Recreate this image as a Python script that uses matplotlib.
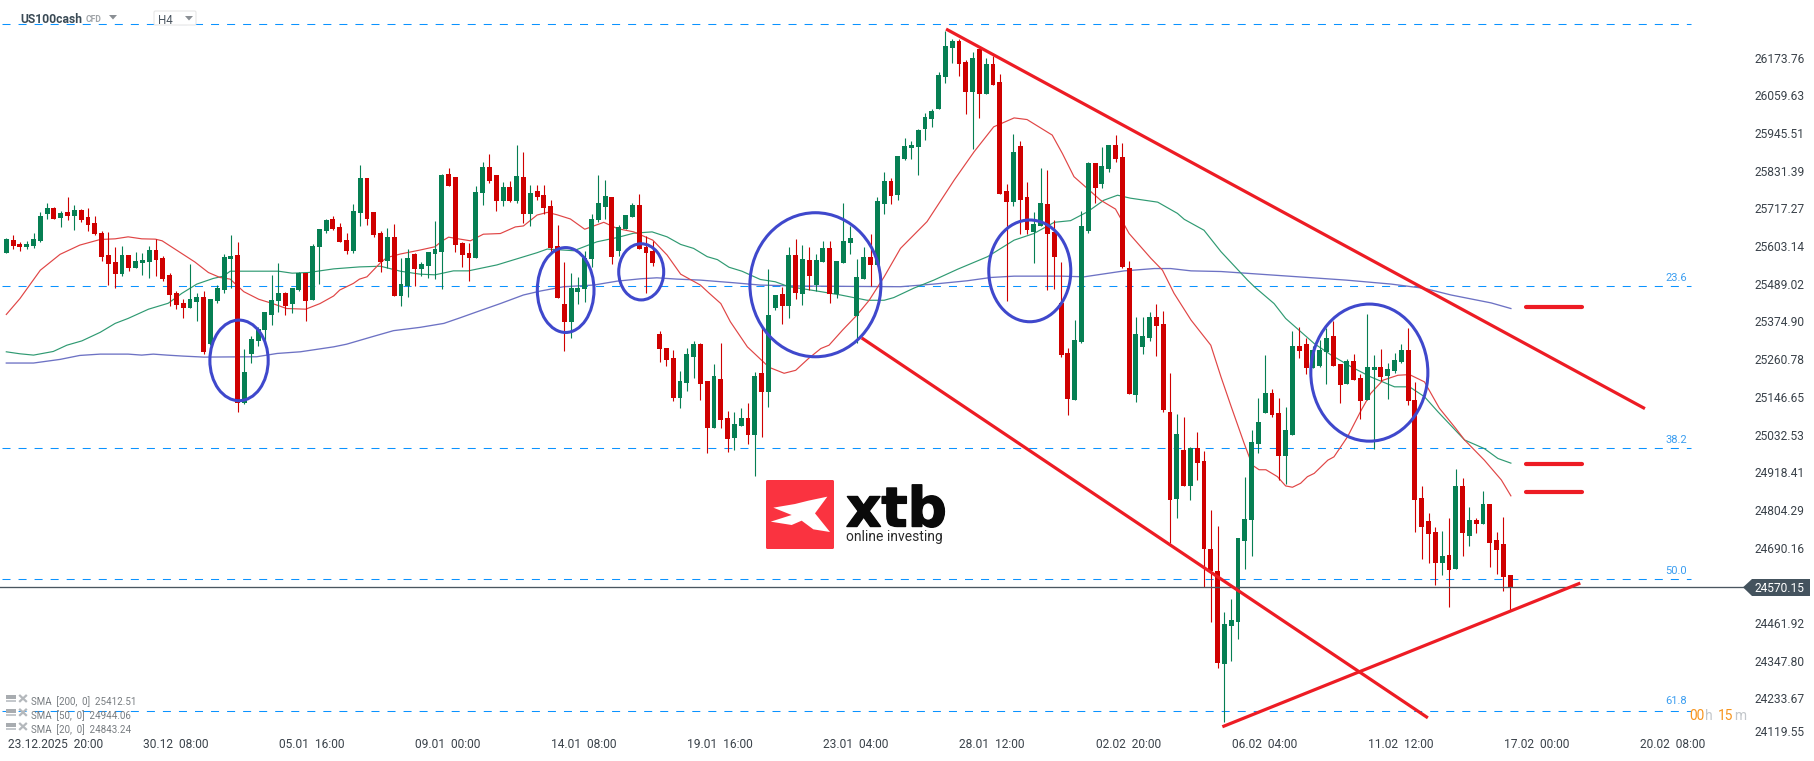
import matplotlib
matplotlib.use("Agg")
import matplotlib.pyplot as plt
import matplotlib.patheffects as pe
import numpy as np
from matplotlib.patches import Ellipse, Polygon, Rectangle, FancyBboxPatch
from matplotlib.transforms import Bbox

plt.rcParams['font.family'] = ['Roboto', 'DejaVu Sans']

opens = [25582,25621,25609,25600,25603,25618,25700,25718,25688,25706,
25694,25712,25691,25672,25642,25576,25554,25518,25576,25536,
25551,25554,25591,25567,25515,25461,25430,25415,25433,25449,
25306,25436,25470,25564,25576,25128,25276,25315,25349,25394,
25436,25461,25427,25470,25521,25439,25600,25648,25685,25660,
25621,25588,25703,25809,25706,25642,25557,25630,25452,25482,
25579,25533,25542,25579,25585,25821,25812,25612,25582,25567,
25763,25842,25818,25739,25781,25739,25812,25700,25769,25757,
25724,25603,25427,25373,25464,25473,25564,25682,25721,25751,
25588,25654,25691,25727,25600,25588,25336,25294,25264,25143,
25188,25267,25306,25194,25052,25200,25082,25022,25058,25082,
25031,25218,25161,25415,25458,25421,25576,25458,25560,25485,
25554,25597,25458,25551,25612,25391,25503,25570,25545,25730,
25800,25757,25866,25900,25903,25957,25987,26018,26114,26202,
26223,26160,26069,26199,26063,26154,26099,25769,25736,25906,
25751,25645,25663,25730,25645,25430,25279,25137,25312,25648,
25854,25791,25836,25909,25872,25536,25152,25297,25324,25388,
25367,25100,24837,24985,24876,24991,24952,24686,24619,24338,
24453,24465,24710,24774,25004,25097,25158,25097,24967,25031,
25300,25306,25234,25240,25282,25330,25246,25185,25255,25203,
25137,25228,25237,25209,25225,25252,25288,25137,24840,24770,
24737,24643,24668,24625,24876,24725,24773,24761,24822,24713,
24701,24607]

highs = [25628,25636,25615,25618,25642,25706,25733,25721,25709,25751,
25727,25715,25718,25694,25648,25645,25600,25603,25576,25585,
25582,25603,25624,25573,25521,25467,25442,25548,25461,25467,
25442,25485,25579,25636,25615,25291,25330,25359,25403,25515,
25551,25464,25476,25524,25521,25609,25654,25685,25694,25672,
25642,25730,25848,25809,25706,25648,25657,25669,25567,25594,
25582,25554,25585,25679,25821,25839,25812,25615,25612,25784,
25857,25881,25818,25797,25800,25909,25887,25788,25788,25788,
25742,25666,25554,25521,25509,25588,25700,25818,25803,25751,
25666,25697,25733,25760,25633,25618,25346,25294,25288,25225,
25294,25315,25309,25194,25246,25309,25103,25100,25112,25128,
25221,25358,25533,25455,25479,25600,25624,25606,25600,25579,
25618,25618,25557,25733,25663,25564,25600,25639,25751,25827,
25809,25875,25930,25921,25957,26005,26018,26130,26254,26229,
26229,26166,26190,26199,26172,26178,26124,25791,25942,25921,
25797,25706,25839,25833,25682,25554,25294,25379,25709,25857,
25854,25903,25909,25939,25915,25557,25388,25388,25403,25427,
25406,25218,25094,25085,24994,25040,24982,24804,24755,24495,
24534,24719,24904,25046,25143,25273,25170,25143,25116,25346,
25358,25324,25300,25318,25355,25376,25246,25261,25276,25215,
25397,25273,25291,25249,25279,25306,25355,25191,24876,24795,
24752,24740,24780,24928,24901,24813,24780,24861,24822,24737,
24783,24607]

lows = [25582,25594,25588,25594,25597,25615,25685,25685,25660,25682,
25651,25676,25648,25636,25557,25485,25476,25512,25527,25536,
25515,25506,25512,25497,25421,25412,25385,25415,25376,25276,
25303,25430,25461,25476,25100,25125,25249,25300,25318,25364,
25403,25394,25400,25467,25376,25439,25488,25642,25651,25615,
25579,25582,25663,25666,25630,25524,25536,25452,25421,25449,
25482,25512,25506,25503,25473,25784,25585,25539,25497,25567,
25727,25794,25709,25724,25736,25733,25672,25663,25742,25700,
25582,25445,25285,25324,25427,25433,25539,25676,25685,25548,
25573,25654,25691,25594,25461,25542,25252,25240,25134,25113,
25164,25203,25137,24976,25052,25052,24979,24985,25058,25004,
24907,25025,25116,25409,25367,25385,25442,25424,25470,25467,
25554,25430,25445,25551,25579,25309,25503,25482,25545,25700,
25730,25742,25863,25866,25818,25924,25963,26018,26096,26157,
26117,26002,25897,25990,26063,26090,25760,25436,25724,25639,
25639,25551,25663,25470,25473,25267,25091,25137,25309,25642,
25733,25778,25827,25857,25536,25155,25131,25276,25315,25270,
25100,24704,24780,24876,24834,24895,24571,24465,24326,24162,
24347,24413,24625,24665,24976,25097,25085,24895,24883,25031,
25264,25215,25234,25237,25185,25240,25128,25185,25197,25079,
25137,24988,25194,25140,25218,25249,25122,24737,24655,24643,
24577,24607,24510,24625,24665,24695,24734,24761,24631,24610,
24559,24498]

closes = [25624,25603,25600,25609,25624,25694,25718,25685,25703,25694,
25712,25682,25666,25639,25570,25548,25518,25576,25536,25557,
25560,25591,25560,25503,25455,25424,25415,25442,25449,25282,
25442,25476,25570,25573,25128,25221,25321,25352,25403,25439,
25461,25421,25476,25521,25436,25603,25654,25682,25654,25615,
25588,25709,25809,25685,25636,25554,25630,25452,25488,25567,
25533,25548,25585,25594,25818,25784,25606,25576,25567,25766,
25842,25800,25739,25781,25739,25815,25700,25763,25751,25718,
25597,25445,25373,25476,25476,25567,25685,25733,25754,25570,
25660,25697,25727,25594,25582,25551,25291,25258,25143,25194,
25276,25306,25185,25052,25209,25076,25019,25064,25082,25031,
25209,25161,25394,25455,25421,25576,25461,25564,25512,25560,
25597,25458,25557,25618,25627,25509,25570,25545,25739,25800,
25754,25875,25906,25909,25954,25993,26012,26121,26208,26223,
26154,26069,26172,26063,26154,26090,25760,25736,25887,25742,
25651,25669,25733,25639,25570,25273,25140,25318,25663,25854,
25778,25845,25909,25866,25539,25155,25337,25330,25388,25361,
25106,24834,25034,24876,24991,24946,24686,24619,24341,24459,
24471,24719,24777,25010,25070,25158,25091,24967,25046,25300,
25285,25234,25288,25288,25324,25240,25182,25255,25197,25134,
25237,25237,25206,25231,25258,25288,25134,24834,24752,24731,
24643,24665,24622,24876,24734,24773,24761,24822,24704,24683,
24601,24570]

sma20_x = [0,2,5,7.9,10.8,13.8,16,17.9,19.9,21.9,22.9,25,27.7,29.7,31.4,32.9,34.9,37.1,39,41.2,44,46.1,48.1,49,51,51.9,53,55,55.9,57.9,60.8,
63,64,65,66.7,68.2,70.1,72.6,74.8,76,78,79.5,80.9,82.9,85,87.8,89.8,92.2,95,97.1,99.1,102,103.2,105,106.4,108.9,112.1,114.3,116,117.9,119.7,
120.9,122.9,125,126.8,129,131.4,135.3,139.3,142.2,145.1,148.1,150,153.7,155.2,156.9,160.8,163,165,168.2,169.9,171.6,174.1,177,178.5,
180,181.9,183.1,184.1,185.1,186.8,188,189,190.2,191.2,192.2,194.2,195.1,197.1,199.1,200.5,202.3,204.5,206.2,208.4,210.6,213,214.3,217.2,219.7,221.1]
sma20_y = [25396,25444,25530,25578,25606,25623,25625,25631,25625,25624,25619,25591,25555,25523,25508,25503,25465,25442,25430,25414,25412,25429,25452,25470,25490,25503,25510,25553,25568,25579,25591,
25601,25618,25630,25624,25619,25639,25641,25661,25664,25697,25705,25698,25685,25654,25675,25656,25646,25621,25576,25518,25485,25462,25429,25374,25298,25236,25218,25227,25263,25293,
25303,25349,25394,25439,25510,25596,25677,25803,25888,25964,25991,25986,25939,25883,25813,25742,25715,25641,25566,25530,25460,25379,25303,25207,
25117,25006,24940,24926,24926,24905,24877,24873,24885,24905,24915,24955,24965,25026,25106,25157,25197,25212,25214,25192,25112,25051,25016,24955,24895,24847]

sma50_x = [0,2,4,6.9,8.9,11.1,13.8,16,17.9,20.9,23.8,25.8,28,30.4,31.9,32.9,40,42,44.4,48.1,51.9,55,57.9,60.8,
63,65.7,67.9,72.1,78,79.5,83.4,86.8,89.8,92.2,94.9,97.1,99.1,101,103,104.5,106.2,108.1,110.8,113,115,
116.7,119.7,122.6,126.5,129,130.4,133.4,136.3,139.8,144.2,148.1,151,154,156.4,158.9,161.3,163.3,165.2,169.2,172.1,173.1,176,178.5,
182.4,183.4,186.3,188,192.2,194.7,197.6,200.5,204,206.2,208.4,210.4,214.3,217.2,219.2,221.1]
sma50_y = [25283,25277,25273,25284,25303,25316,25342,25369,25384,25412,25430,25460,25488,25505,25512,25527,25527,25521,25523,25534,25540,25542,25527,25518,
25516,25528,25528,25546,25583,25594,25589,25616,25629,25642,25646,25631,25608,25596,25571,25562,25539,25527,25502,25495,25480,
25475,25465,25455,25439,25439,25447,25476,25500,25533,25571,25621,25641,25675,25680,25707,25742,25757,25748,25736,25702,25684,25651,25586,
25500,25480,25429,25384,25308,25273,25238,25207,25177,25177,25147,25101,25016,24990,24960,24946]

sma200_x = [0,4,7.9,10.8,13.8,17.9,19.9,21.6,23.6,26,29,36.8,39.8,43.2,48.1,50,54,56.9,60.8,
64.3,66.7,69.7,72.6,76,78.5,81.9,86.3,89.8,93.2,95.6,98.6,102,106.9,110.8,116.7,
124.1,131.4,136.3,141.2,144.7,148.1,155,158.4,164.3,168.7,171.1,174.1,178.5,186.3,
196.9,203.5,208.4,212.3,218.2,221.1]
sma200_y = [25249,25249,25260,25272,25276,25276,25273,25276,25273,25270,25267,25268,25278,25283,25298,25306,25330,25347,25357,
25369,25386,25408,25429,25455,25467,25480,25485,25497,25504,25507,25503,25500,25492,25485,25482,
25481,25480,25488,25498,25508,25512,25512,25510,25528,25535,25535,25528,25526,25515,
25500,25488,25475,25455,25431,25414]

fib_levels = [26274, 25481, 24991, 24594, 24197]
fib_labels = ['0.0', '23.6', '38.2', '50.0', '61.8']
last_price = 24570.15

y_ticks = [26173.76,26059.63,25945.51,25831.39,25717.27,25603.14,25489.02,25374.90,25260.78,
           25146.65,25032.53,24918.41,24804.29,24690.16,24461.92,24347.80,24233.67]
bottom_tick = 24119.55
x_tick_pos = [7.2,24.85,44.85,64.85,84.85,104.85,124.85,144.85,164.85,184.85,204.85,224.85,244.85]
x_tick_labels = ['23.12.2025  20:00','30.12  08:00','05.01  16:00','09.01  00:00','14.01  08:00',
                 '19.01  16:00','23.01  04:00','28.01  12:00','02.02  20:00','06.02  04:00',
                 '11.02  12:00','17.02  00:00','20.02  08:00']

# drawn annotations on the chart, in bar index and price
trend_lines = [((138.1,26260),(240.8,25111)), ((125.7,25325),(208.9,24175)), ((178.7,24148),(231.3,24583))]
target_levels = [25419, 24942, 24859]
target_span = (223.3, 231.5)
circles = [(34.2,25257,8.57,244),(82.2,25470,8.33,257),(93.3,25525,6.61,170),
           (118.9,25486,19.25,436),(150.4,25528,12.05,308),(200.3,25220,17.2,415)]
legend_rows = ['SMA  [200,  0]  25412.51','SMA  [50,  0]  24944.06','SMA  [20,  0]  24843.24']

UP, DOWN = '#067f53', '#cf0000'
W, H = 1815, 761
fig = plt.figure(figsize=(W/100, H/100), dpi=100, facecolor='white')
PLOT_R, PLOT_B = 1745, 735
ax = fig.add_axes([0, (H-PLOT_B)/H, PLOT_R/W, PLOT_B/H])
bar_px, bar0 = 6.805, 6.3
price_px, price_ref, y_ref = 3.027, last_price, 587.3
ax.set_xlim((0-bar0)/bar_px, (PLOT_R-bar0)/bar_px)
ax.set_ylim(price_ref+(y_ref-PLOT_B)*price_px, price_ref+y_ref*price_px)
for s in ax.spines.values():
    s.set_visible(False)

n = len(opens)
assert n == len(highs) == len(lows) == len(closes) == 222
xs = np.arange(n)
o, h, l, c = map(np.array, (opens, highs, lows, closes))
cols = [UP if cc >= oo else DOWN for oo, cc in zip(o, c)]

# fibonacci levels
fib_x0, fib_x1 = 2/bar_px-bar0/bar_px, (1691-bar0)/bar_px
for lv in fib_levels:
    ax.plot([fib_x0, fib_x1], [lv, lv], color='#0a93ff', lw=0.75, ls=(0, (7.7, 7.7)), zorder=1)

# moving averages
ax.plot(sma200_x, sma200_y, color='#6d72c4', lw=0.95, zorder=2)
ax.plot(sma50_x, sma50_y, color='#2f9a72', lw=0.85, zorder=2)
ax.plot(sma20_x, sma20_y, color='#e04545', lw=0.85, zorder=2)

# candles
ax.vlines(xs, l, h, colors=cols, lw=0.8, zorder=3)
ax.bar(xs, np.abs(c-o), bottom=np.minimum(o, c), width=0.72, color=cols, linewidth=0, zorder=3)

# last price
ax.axhline(last_price, color='#4a5660', lw=0.95, zorder=3.5)

# annotations
for (p0, p1) in trend_lines:
    ax.plot([p0[0], p1[0]], [p0[1], p1[1]], color='#ed1c24', lw=2.3, solid_capstyle='butt', zorder=4)
for lv in target_levels:
    ax.plot(target_span, [lv, lv], color='#ed1c24', lw=3, solid_capstyle='round', zorder=4)
for cx, cy, w, hh in circles:
    ax.add_patch(Ellipse((cx, cy), w, hh, fill=False, ec='#3f48cc', lw=2.2, zorder=5))

# axes
ax.set_xticks(x_tick_pos)
ax.set_xticklabels(x_tick_labels)
ax.yaxis.tick_right()
ax.set_yticks(y_ticks)
ax.set_yticklabels([f'{v:.2f}' for v in y_ticks])
ax.tick_params(axis='x', length=0, pad=2.4, labelsize=8.65, labelcolor='#3a424a')
ax.tick_params(axis='y', length=0, pad=7.2, labelsize=8.65, labelcolor='#3a424a')
for t in ax.get_yticklabels():
    t.set_horizontalalignment('left')

# overlay in figure pixels for chart furniture
ov = fig.add_axes([0, 0, 1, 1], zorder=10)
ov.set_xlim(0, W); ov.set_ylim(H, 0); ov.axis('off')
ov.patch.set_alpha(0)

ov.text(1755, 732, f'{bottom_tick:.2f}', fontsize=8.65, color='#3a424a', va='center', ha='left')

# price tag
ov.add_patch(Polygon([(1743, 587.3), (1752, 579), (1810, 579), (1810, 596), (1752, 596)], closed=True, fc='#44535e', ec='none'))
ov.text(1779, 588, f'{last_price:.2f}', color='white', fontsize=8.65, ha='center', va='center')

# fibonacci labels
fib_y = [14, 278, 440, 570.5, 700.5]
for lab, yy in zip(fib_labels, fib_y):
    t = ov.text(1676, yy, lab, color='#3a9df0', fontsize=8, ha='center', va='center')
    if lab == '0.0':
        t.set_clip_box(Bbox([[1660, H-22], [1695, H-16.5]]))
        t.set_clip_on(True)

# header
ov.text(20, 19.5, 'US100cash', fontsize=8.7, fontweight='bold', color='#3a4a55', va='center')
ov.text(86, 19.5, 'CFD', fontsize=6.2, fontweight='bold', color='#a0a4a8', va='center')
ov.add_patch(Polygon([(109, 15), (117, 15), (113, 19.5)], closed=True, fc='#8a8f94', ec='none'))
ov.add_patch(FancyBboxPatch((154, 11), 42, 14, boxstyle='round,pad=0,rounding_size=1.5', fc='white', ec='#e6e6e6', lw=0.8))
ov.text(158, 20, 'H4', fontsize=8.4, color='#4a5560', va='center')
ov.add_patch(Polygon([(185, 16), (193, 16), (189, 20.5)], closed=True, fc='#8a8f94', ec='none'))

# legend
for row, yy in zip(legend_rows, [701.7, 715.6, 729.7]):
    ov.text(31, yy, row, fontsize=7.05, color='#777c80', va='center')
    ov.add_patch(Rectangle((6, yy-6.5), 10, 3.5, fc='#a8acb0', ec='none'))
    ov.add_patch(Rectangle((6, yy-2), 10, 2, fc='#c4c8cc', ec='none'))
    ov.plot([20, 26], [yy-6, yy-0.5], color='#b4b8bc', lw=1.6)
    ov.plot([20, 26], [yy-0.5, yy-6], color='#b4b8bc', lw=1.6)

# countdown
for xx, s, col in [(1689, '00', '#f7941d'), (1705, 'h', '#c3c7cb'), (1718, '15', '#f7941d'), (1734, 'm', '#c3c7cb')]:
    ov.text(xx, 716, s, fontsize=9.9, color=col, va='center', ha='left')

# logo
ov.add_patch(FancyBboxPatch((766, 480), 68, 69, boxstyle='round,pad=0,rounding_size=1.5', fc='#fa3340', ec='none'))
logo_pts = [(262,110),(205,122),(165,132),(100,143),(155,165),(92,185),(155,195),(185,182),(220,208),(270,216),(225,160)]
ov.add_patch(Polygon([(740+a/3, 460+b/3) for a, b in logo_pts], closed=True, fc='white', ec='none'))
ov.text(846, 526.5, 'xtb', fontsize=39.5, fontweight='bold', family='DejaVu Sans', color='#0a0a0a', va='baseline', ha='left',
        path_effects=[pe.withStroke(linewidth=1.0, foreground='#0a0a0a')])
ov.text(846, 537.5, 'online investing', fontsize=10, color='#2a2a2a', va='center', ha='left')

fig.savefig('out.png', dpi=100, facecolor='white')
